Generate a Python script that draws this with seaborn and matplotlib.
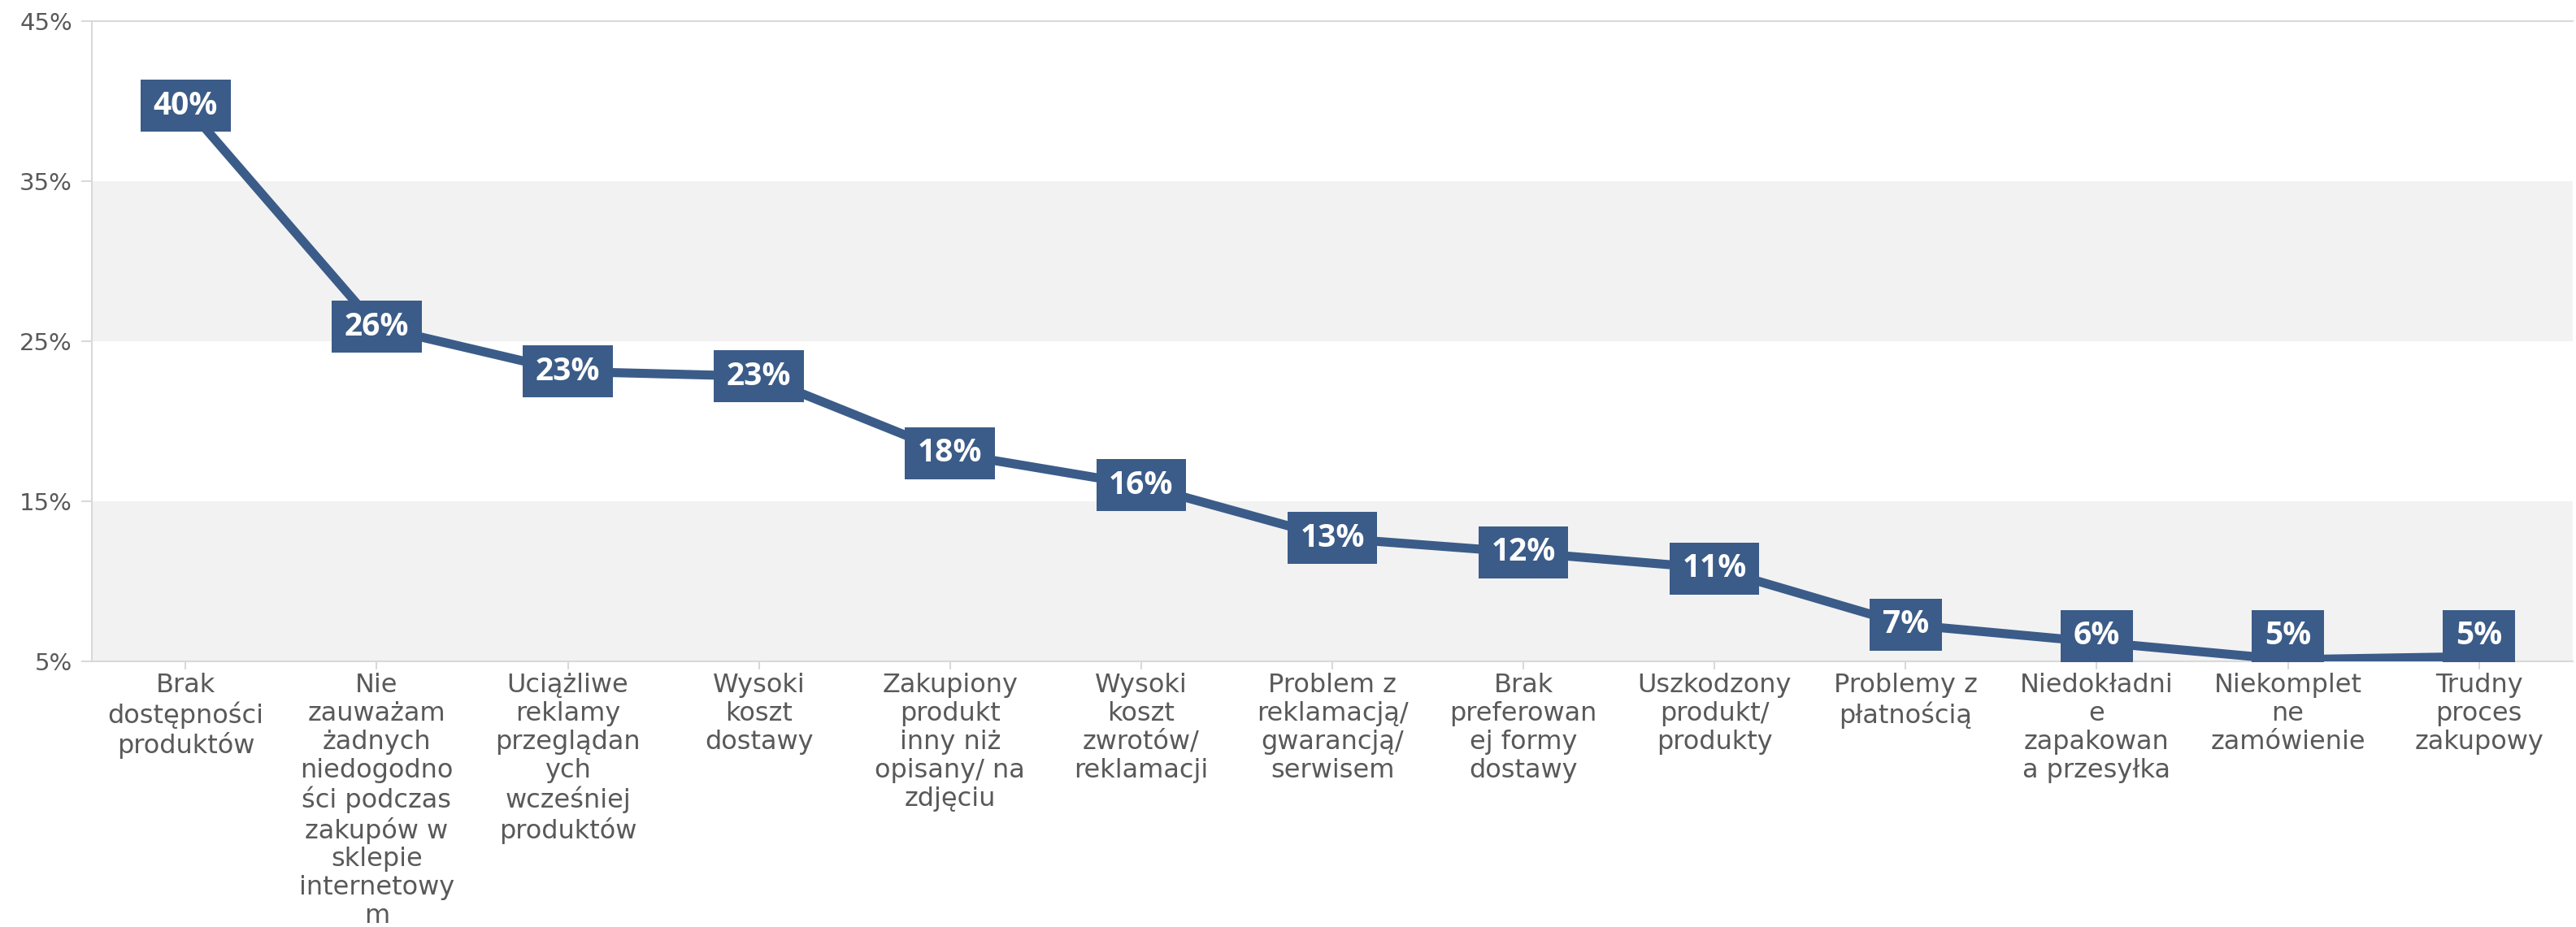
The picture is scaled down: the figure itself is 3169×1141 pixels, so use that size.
import numpy as np
import pandas as pd
import matplotlib
matplotlib.use("Agg")
import matplotlib.pyplot as plt
import seaborn as sns

# Categories (x axis), in display order
categories = [
    "Brak\ndostępności\nproduktów",
    "Nie\nzauważam\nżadnych\nniedogodno\nści podczas\nzakupów w\nsklepie\ninternetowy\nm",
    "Uciążliwe\nreklamy\nprzeglądan\nych\nwcześniej\nproduktów",
    "Wysoki\nkoszt\ndostawy",
    "Zakupiony\nprodukt\ninny niż\nopisany/ na\nzdjęciu",
    "Wysoki\nkoszt\nzwrotów/\nreklamacji",
    "Problem z\nreklamacją/\ngwarancją/\nserwisem",
    "Brak\npreferowan\nej formy\ndostawy",
    "Uszkodzony\nprodukt/\nprodukty",
    "Problemy z\npłatnością",
    "Niedokładni\ne\nzapakowan\na przesyłka",
    "Niekomplet\nne\nzamówienie",
    "Trudny\nproces\nzakupowy",
]

# Share of respondents (%)
values = [39.7, 25.9, 23.1, 22.8, 18.0, 16.0, 12.7, 11.8, 10.8, 7.3, 6.2, 5.1, 5.3]

# Y axis ticks (%)
y_ticks = [5, 15, 25, 35, 45]

LINE_COLOR = "#3b5c89"
GRID_COLOR = "#d9d9d9"
BAND_COLOR = "#f2f2f2"
TEXT_COLOR = "#595959"

sns.set_style("white")
plt.rcParams["font.family"] = ["DejaVu Sans"]

df = pd.DataFrame({"pos": np.arange(len(values)), "value": values})

fig = plt.figure(figsize=(31.69, 11.41), dpi=100)
ax = fig.add_axes([0.0357, 0.2866, 0.963, 0.691])

# alternating background bands
for lo, hi in [(5, 15), (25, 35)]:
    ax.axhspan(lo, hi, color=BAND_COLOR, zorder=0, lw=0)

sns.lineplot(data=df, x="pos", y="value", sort=False, color=LINE_COLOR,
             linewidth=8, marker="o", markersize=13, markeredgewidth=0,
             ax=ax, zorder=3)

ax.set_xlim(-0.49, len(values) - 1 + 0.49)
ax.set_ylim(y_ticks[0], y_ticks[-1])

# value labels in solid boxes; kept inside the plotting area at the bottom
fig.canvas.draw()
box_h_px = 62
px_per_unit = ax.transData.transform((0, 1))[1] - ax.transData.transform((0, 0))[1]
min_center = y_ticks[0] + (box_h_px / 2) / px_per_unit
for i, v in enumerate(values):
    ax.text(i, max(v, min_center), f"{round(v):.0f}%", ha="center", va="center",
            color="white", fontsize=28, fontweight="bold",
            family=["Open Sans", "DejaVu Sans"], zorder=5,
            bbox=dict(boxstyle="square,pad=0.4", fc=LINE_COLOR, ec="none",
                      mutation_aspect=0.8))

ax.set_xticks(np.arange(len(categories)))
ax.set_xticklabels(categories, fontsize=23, color=TEXT_COLOR, linespacing=1.16)
ax.set_yticks(y_ticks)
ax.set_yticklabels([f"{t}%" for t in y_ticks], fontsize=21, color=TEXT_COLOR)
ax.set_xlabel("")
ax.set_ylabel("")

ax.tick_params(axis="y", which="major", direction="out", length=9.4, width=1.5,
               color=GRID_COLOR, pad=8, left=True)
ax.tick_params(axis="x", which="major", direction="out", length=7.2, width=1.5,
               color=GRID_COLOR, pad=3, bottom=True)

for side in ["left", "bottom", "top"]:
    ax.spines[side].set_visible(True)
    ax.spines[side].set_color(GRID_COLOR)
    ax.spines[side].set_linewidth(1.5)
ax.spines["right"].set_visible(False)

fig.savefig("out.png", dpi=100, facecolor="white")
